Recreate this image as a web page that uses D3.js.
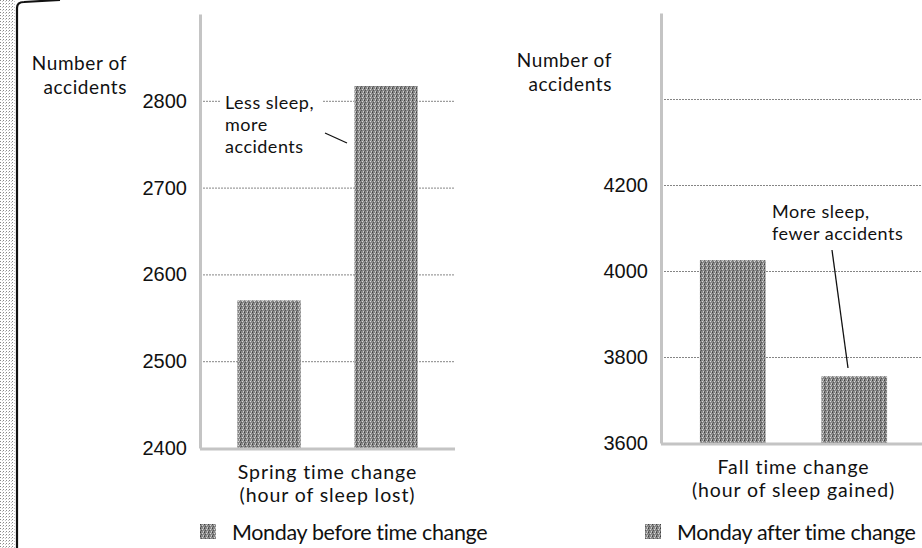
<!DOCTYPE html>
<html>
<head>
<meta charset="utf-8">
<script src="https://cdn.jsdelivr.net/npm/d3@7"></script>
<style>
  body { margin: 0; background: #fff; }
  svg { display: block; }
  text { font-family: Lato, "Open Sans", sans-serif; fill: #111; }
  .tick text { font-family: "Liberation Sans", Arial, sans-serif; }
</style>
</head>
<body>
<svg id="chart" width="922" height="548"></svg>
<script>
// data
var categories = ["Monday before time change", "Monday after time change"];
var springValues = [2570, 2817];
var fallValues = [4025, 3755];
var springTicks = [2400, 2500, 2600, 2700, 2800];
var springTickLabels = ["2400", "2500", "2600", "2700", "2800"];
var fallTicks = [3600, 3800, 4000, 4200, 4400];
var fallTickLabels = ["3600", "3800", "4000", "4200", ""];

var svg = d3.select("#chart");

// halftone-ish fill for bars
var defs = svg.append("defs");
var pat = defs.append("pattern")
  .attr("id", "dots")
  .attr("width", 4).attr("height", 4)
  .attr("patternUnits", "userSpaceOnUse");
pat.append("rect").attr("width", 4).attr("height", 4).attr("fill", "#888");
[[0,0,"#3f3f3f"],[2,1,"#d8d8d8"],[1,2,"#555"],[3,3,"#cfcfcf"],[3,0,"#b0b0b0"],[0,3,"#616161"]].forEach(function(p){
  pat.append("rect").attr("x", p[0]).attr("y", p[1]).attr("width", 1).attr("height", 1).attr("fill", p[2]);
});
var pat2 = defs.append("pattern")
  .attr("id", "edge")
  .attr("width", 3).attr("height", 3)
  .attr("patternUnits", "userSpaceOnUse");
pat2.append("rect").attr("width", 3).attr("height", 3).attr("fill", "#fff");
pat2.append("rect").attr("width", 1).attr("height", 1).attr("fill", "#888");
pat2.append("rect").attr("x", 2).attr("y", 1).attr("width", 1).attr("height", 1).attr("fill", "#c4c4c4");

// page edge from the scan
svg.append("rect").attr("x", 0).attr("y", 0).attr("width", 15).attr("height", 548).attr("fill", "url(#edge)");
svg.append("path")
  .attr("d", "M17,548 L17,8 Q17,2 24,2 L60,0")
  .attr("fill", "none").attr("stroke", "#111").attr("stroke-width", 2.2);

function panel(opt) {
  var g = svg.append("g");
  var y = d3.scaleLinear().domain(opt.domain).range([opt.bottom, opt.top]);
  var x = d3.scaleBand().domain(categories).range([opt.left, opt.right])
    .paddingInner(0.46).paddingOuter(0.32);

  // gridlines
  g.append("g")
    .attr("transform", "translate(" + opt.left + ",0)")
    .call(d3.axisLeft(y).tickValues(opt.ticks.slice(1)).tickSize(-(opt.gridRight - opt.left)).tickFormat(""))
    .call(function(s){
      s.select(".domain").remove();
      s.selectAll("line").attr("stroke", "#858585").attr("stroke-width", 1).attr("stroke-dasharray", "2,1");
    });

  // annotation backing
  if (opt.mask) {
    g.append("rect").attr("x", opt.mask[0]).attr("y", opt.mask[1])
      .attr("width", opt.mask[2]).attr("height", opt.mask[3]).attr("fill", "#fff");
  }

  // bars
  g.selectAll("rect.bar")
    .data(opt.values)
    .enter()
    .append("rect")
    .attr("class", "bar")
    .attr("x", function(d, i){ return x(categories[i]); })
    .attr("width", x.bandwidth())
    .attr("y", function(d){ return y(d); })
    .attr("height", function(d){ return y(opt.domain[0]) - y(d); })
    .attr("fill", "url(#dots)");

  // y axis with labels
  g.append("g")
    .attr("transform", "translate(" + opt.left + ",0)")
    .call(d3.axisLeft(y).tickValues(opt.ticks).tickSize(0).tickPadding(13)
      .tickFormat(function(d, i){ return opt.tickLabels[i]; }))
    .call(function(s){
      s.select(".domain").attr("stroke", "#c4c4c4").attr("stroke-width", 3);
      s.selectAll(".tick text").attr("font-size", 20).attr("fill", "#222");
    });

  // bottom axis line
  g.append("line")
    .attr("x1", opt.left).attr("x2", opt.gridRight)
    .attr("y1", y(opt.domain[0]) + 1).attr("y2", y(opt.domain[0]) + 1)
    .attr("stroke", "#c4c4c4").attr("stroke-width", 3);

  // axis title, one text per line
  ["Number of", "accidents"].forEach(function(line, i){
    g.append("text").attr("text-anchor", "end").attr("font-size", 19)
      .attr("letter-spacing", 0.6)
      .attr("x", opt.titleX).attr("y", opt.titleY + i * 24).text(line);
  });

  // x label
  var cx = (x(categories[0]) + x(categories[1]) + x.bandwidth()) / 2;
  opt.xLabel.forEach(function(line, i){
    g.append("text").attr("text-anchor", "middle").attr("font-size", 19.5)
      .attr("letter-spacing", 0.9)
      .attr("x", cx).attr("y", y(opt.domain[0]) + 30.5 + i * 23.5).text(line);
  });

  // annotation
  opt.note.forEach(function(line, i){
    g.append("text").attr("font-size", 18).attr("letter-spacing", 0.5)
      .attr("x", opt.noteX).attr("y", opt.noteY + i * 22).text(line);
  });
  g.append("line")
    .attr("x1", opt.leader[0]).attr("y1", opt.leader[1])
    .attr("x2", opt.leader[2]).attr("y2", opt.leader[3])
    .attr("stroke", "#111").attr("stroke-width", 1.3);

  // legend
  g.append("rect").attr("x", opt.legendX).attr("y", 524)
    .attr("width", 16).attr("height", 15).attr("fill", "url(#dots)");
  g.append("text").attr("x", opt.legendX + 32).attr("y", 540)
    .attr("font-size", 21.5).attr("letter-spacing", -0.35).text(opt.legend);
}

panel({
  domain: [2400, 2900], top: 14, bottom: 448,
  left: 200, right: 455, gridRight: 455,
  values: springValues, ticks: springTicks, tickLabels: springTickLabels,
  titleX: 127, titleY: 70,
  xLabel: ["Spring time change", "(hour of sleep lost)"],
  note: ["Less sleep,", "more", "accidents"], noteX: 225, noteY: 109,
  mask: [220, 92, 103, 16],
  leader: [325, 133, 347, 143],
  legendX: 200, legend: categories[0]
});

panel({
  domain: [3600, 4600], top: 13, bottom: 443,
  left: 661, right: 926, gridRight: 922,
  values: fallValues, ticks: fallTicks, tickLabels: fallTickLabels,
  titleX: 612, titleY: 67,
  xLabel: ["Fall time change", "(hour of sleep gained)"],
  note: ["More sleep,", "fewer accidents"], noteX: 772, noteY: 218,
  mask: null,
  leader: [832, 250, 848, 368],
  legendX: 645, legend: categories[1]
});
</script>
</body>
</html>
